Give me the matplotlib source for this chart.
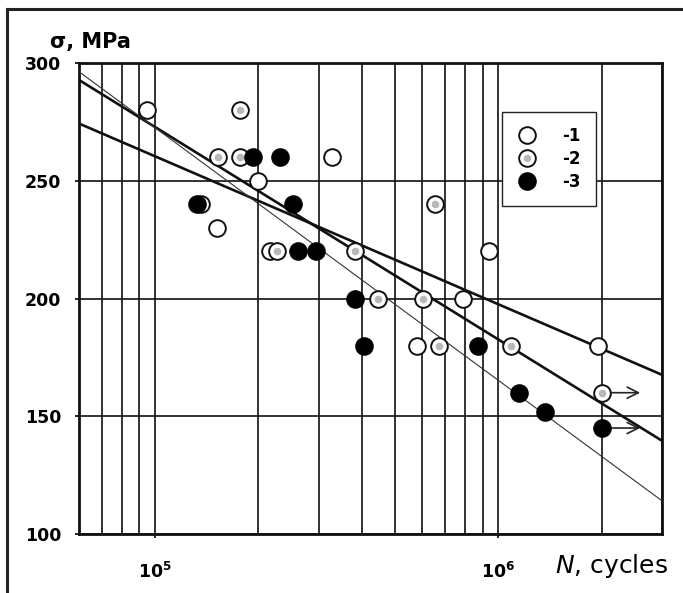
import numpy as np
import matplotlib.pyplot as plt
from matplotlib.ticker import LogLocator, NullFormatter
from matplotlib.lines import Line2D

# series 1 - open circles
n1 = [9.5e4, 1.36e5, 1.51e5, 1.99e5, 2.16e5, 3.28e5, 5.8e5, 7.9e5, 9.4e5, 1.95e6]
s1 = [280, 240, 230, 250, 220, 260, 180, 200, 220, 180]

# series 2 - circles with grey centre
n2 = [1.52e5, 1.77e5, 1.77e5, 2.27e5, 3.83e5, 4.47e5, 6.04e5, 6.55e5, 6.73e5, 1.09e6, 2.0e6]
s2 = [260, 280, 260, 220, 220, 200, 200, 240, 180, 180, 160]

# series 3 - black circles
n3 = [1.32e5, 1.93e5, 2.31e5, 2.53e5, 2.61e5, 2.94e5, 3.83e5, 4.06e5, 8.75e5, 1.15e6, 1.37e6, 2.0e6]
s3 = [240, 260, 260, 240, 220, 220, 200, 180, 180, 160, 152, 145]

# fitted lines (end points)
line_n = [6e4, 3e6]
line_a = [274.3, 167.6]
line_b = [292.8, 139.6]
line_c = [296.3, 114.1]

# run-outs (arrows)
runout_n = [2.0e6, 2.0e6]
runout_s = [160, 145]

legend_labels = ['-1', '-2', '-3']

plt.rcParams['font.family'] = 'DejaVu Sans'
plt.rcParams['mathtext.fontset'] = 'dejavusans'

fig = plt.figure(figsize=(6.83, 5.93), dpi=100)
ax = fig.add_axes([79 / 683, 1 - 534 / 593, 583 / 683, 471 / 593])

ax.set_xscale('log')
ax.set_xlim(6e4, 3e6)
ax.set_ylim(100, 300)

# grid
ax.xaxis.set_major_locator(LogLocator(base=10))
ax.xaxis.set_minor_locator(LogLocator(base=10, subs=range(2, 10)))
ax.xaxis.set_minor_formatter(NullFormatter())
ax.set_xticks([1e5, 1e6])
ax.set_xticklabels([r'$\mathbf{10^{5}}$', r'$\mathbf{10^{6}}$'])
ax.set_yticks([100, 150, 200, 250, 300])
ax.grid(True, which='both', axis='x', color='#111111', lw=1.2)
ax.grid(True, which='major', axis='y', color='#111111', lw=1.2)
ax.set_axisbelow(True)

ax.tick_params(axis='y', length=3, width=1.2, pad=10, labelsize=12.5)
ax.tick_params(axis='x', which='major', length=3, width=1.2, pad=17, labelsize=12.5)
ax.tick_params(axis='x', which='minor', length=0)
for lab in ax.get_yticklabels():
    lab.set_fontweight('bold')
for sp in ax.spines.values():
    sp.set_linewidth(2.0)
    sp.set_color('#111111')

# lines
ax.plot(line_n, line_a, color='#111111', lw=1.9, zorder=3)
ax.plot(line_n, line_b, color='#111111', lw=1.9, zorder=3)
ax.plot(line_n, line_c, color='#333333', lw=0.8, zorder=3)

ms = 12
mew = 1.4
ax.plot(n1, s1, 'o', ms=ms, mfc='white', mec='#111111', mew=mew, zorder=4)
ax.plot(n2, s2, 'o', ms=ms, mfc='white', mec='#111111', mew=mew, zorder=5)
ax.plot(n2, s2, 'o', ms=5.5, mfc='#b8b8b8', mec='none', zorder=6)
ax.plot(n3, s3, 'o', ms=ms, mfc='black', mec='black', mew=mew, zorder=7)

for n, s in zip(runout_n, runout_s):
    ax.annotate('', xy=(n * 1.32, s), xytext=(n * 1.05, s),
                arrowprops=dict(arrowstyle='->', lw=1.2, color='#222222',
                                mutation_scale=20), zorder=8)

# legend
h1 = Line2D([], [], ls='none', marker='o', ms=ms, mfc='white', mec='#111111', mew=mew)
h2a = Line2D([], [], ls='none', marker='o', ms=ms, mfc='white', mec='#111111', mew=mew)
h2b = Line2D([], [], ls='none', marker='o', ms=5.5, mfc='#b8b8b8', mec='none')
h3 = Line2D([], [], ls='none', marker='o', ms=ms, mfc='black', mec='black', mew=mew)
leg = ax.legend([h1, (h2a, h2b), h3], legend_labels, loc='upper left',
                bbox_to_anchor=(0.7256, 0.896), borderaxespad=0, frameon=True,
                fancybox=False, edgecolor='#222222', framealpha=1,
                prop={'weight': 'bold', 'size': 12}, handlelength=1.2,
                handletextpad=1.5, labelspacing=0.3, borderpad=0.9)
leg.get_frame().set_linewidth(1.0)
leg.set_zorder(10)

# axis titles
fig.text(50 / 683, 1 - 42 / 593, 'σ, MPa', fontsize=15, fontweight='bold',
         ha='left', va='center')
fig.text(555 / 683, 1 - 566 / 593, r'$\mathit{N}$, cycles', fontsize=18,
         ha='left', va='center')

# outer frame (top and left edges)
fig.add_artist(Line2D([7 / 683, 7 / 683], [0, 1 - 9 / 593], color='#222222',
                      lw=2.2, transform=fig.transFigure))
fig.add_artist(Line2D([7 / 683, 1], [1 - 9 / 593, 1 - 9 / 593], color='#222222',
                      lw=2.2, transform=fig.transFigure))

fig.savefig('out.png', dpi=100)
